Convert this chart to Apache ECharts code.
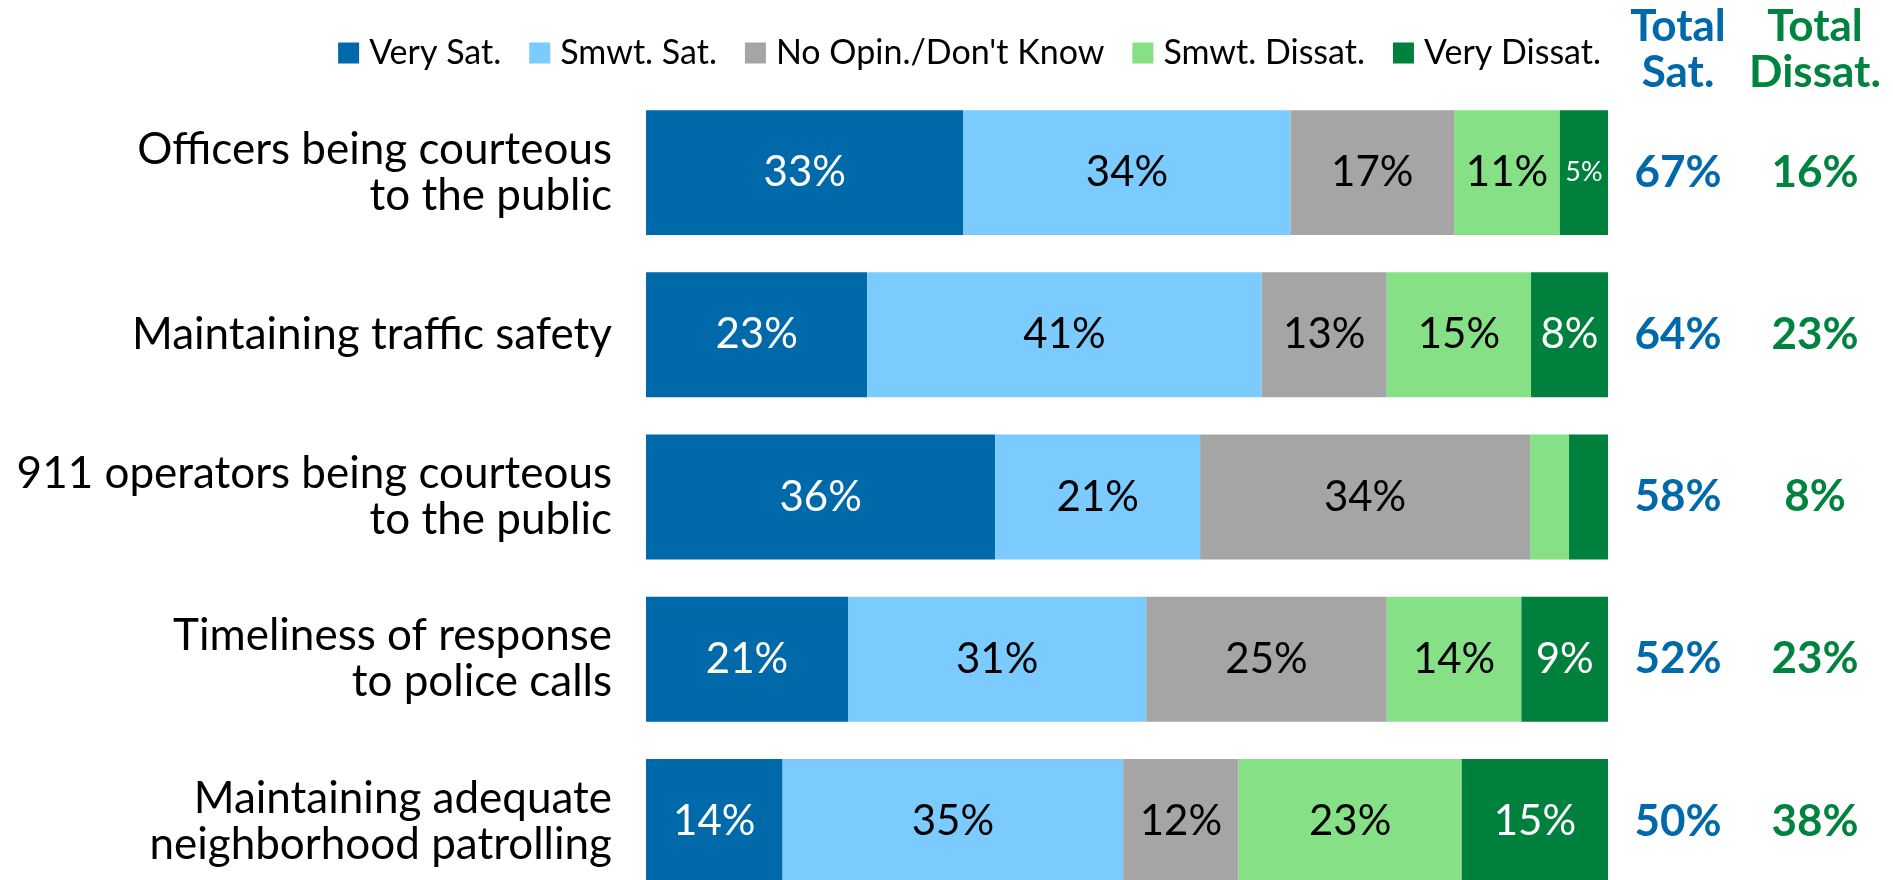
<!DOCTYPE html>
<html>
<head>
<meta charset="utf-8">
<script src="https://cdn.jsdelivr.net/npm/echarts@6/dist/echarts.min.js"></script>
<style>
html,body{margin:0;padding:0;background:#fff;}
#chart{width:1893px;height:880px;}
</style>
</head>
<body>
<div id="chart"></div>
<script>
const categories = [
  'Officers being courteous\nto the public',
  'Maintaining traffic safety',
  '911 operators being courteous\nto the public',
  'Timeliness of response\nto police calls',
  'Maintaining adequate\nneighborhood patrolling'
];
const seriesNames = ['Very Sat.', 'Smwt. Sat.', "No Opin./Don't Know", 'Smwt. Dissat.', 'Very Dissat.'];
const verySat   = [33, 23, 36.3, 21, 14.2];
const smwtSat   = [34, 41, 21.3, 31, 35.4];
const noOpinion = [17, 13, 34.3, 25, 12.0];
const smwtDissat = [11, 15, 4.05, 14, 23.2];
const veryDissat = [5, 8, 4.05, 9, 15.2];
const totalSat    = [67, 64, 58, 52, 50];
const totalDissat = [16, 23, 8, 23, 38];
const totalHeaders = ['Total\nSat.', 'Total\nDissat.'];

const FONT = 'Lato';
const colors = ['#0069AA', '#7BCBFE', '#A5A5A5', '#85E086', '#00803D'];
const labelColors = ['#fff', '#000', '#000', '#000', '#fff'];
const satColor = '#0069AA';
const dissatColor = '#00833E';

const values = [verySat, smwtSat, noOpinion, smwtDissat, veryDissat];

const barSeries = values.map((arr, si) => ({
  name: seriesNames[si],
  type: 'bar',
  stack: 'total',
  xAxisIndex: 0,
  yAxisIndex: 0,
  barCategoryGap: '23%',
  itemStyle: { color: colors[si] },
  data: arr.map(v => ({
    value: v,
    label: {
      show: v >= 4.5,
      fontSize: v >= 7 ? 42 : 27
    }
  })),
  label: {
    show: true,
    position: 'inside',
    fontFamily: FONT,
    color: labelColors[si],
    formatter: p => Math.round(p.value) + '%'
  }
}));

const totalSeries = [
  { arr: totalSat, x: 0, color: satColor },
  { arr: totalDissat, x: 1, color: dissatColor }
].map(t => ({
  type: 'scatter',
  xAxisIndex: 1,
  yAxisIndex: 1,
  symbolSize: 1,
  itemStyle: { color: 'rgba(0,0,0,0)', opacity: 1 },
  silent: true,
  data: t.arr.map((v, i) => [t.x, i, v]),
  encode: { x: 0, y: 1 },
  label: {
    show: true,
    position: 'inside',
    fontFamily: FONT,
    fontWeight: 'bold',
    fontSize: 44,
    opacity: 1,
    color: t.color,
    formatter: p => p.value[2] + '%'
  }
}));

const chart = echarts.init(document.getElementById('chart'));
chart.setOption({
  animation: false,
  textStyle: { fontFamily: FONT },
  legend: {
    data: seriesNames,
    right: 292,
    top: 36,
    padding: 0,
    icon: 'rect',
    itemWidth: 21,
    itemHeight: 21,
    itemGap: 28,
    textStyle: { fontFamily: FONT, fontSize: 34, color: '#000', padding: [0, 0, 0, 5] }
  },
  grid: [
    { left: 646, width: 962, top: 91.5, height: 811, outerBoundsMode: 'none', containLabel: false },
    { left: 1609.5, width: 274, top: 91.5, height: 811, outerBoundsMode: 'none', containLabel: false }
  ],
  xAxis: [
    { type: 'value', gridIndex: 0, min: 0, max: 100, show: false },
    {
      type: 'category', gridIndex: 1, data: totalHeaders, position: 'top',
      axisLine: { show: false }, axisTick: { show: false }, splitLine: { show: false },
      axisLabel: {
        margin: -4,
        interval: 0,
        formatter: (v, i) => v.split('\n').map(s => '{' + (i === 0 ? 's' : 'd') + '|' + s + '}').join('\n'),
        rich: {
          s: { fontFamily: FONT, fontWeight: 'bold', fontSize: 44, lineHeight: 46, color: satColor },
          d: { fontFamily: FONT, fontWeight: 'bold', fontSize: 44, lineHeight: 46, color: dissatColor }
        }
      }
    }
  ],
  yAxis: [
    {
      type: 'category', gridIndex: 0, data: categories, inverse: true,
      axisLine: { show: false }, axisTick: { show: false },
      axisLabel: {
        margin: 34, fontFamily: FONT, fontSize: 44, lineHeight: 46, color: '#000', align: 'right'
      }
    },
    {
      type: 'category', gridIndex: 1, data: categories, inverse: true, show: false
    }
  ],
  series: barSeries.concat(totalSeries)
});
</script>
</body>
</html>
